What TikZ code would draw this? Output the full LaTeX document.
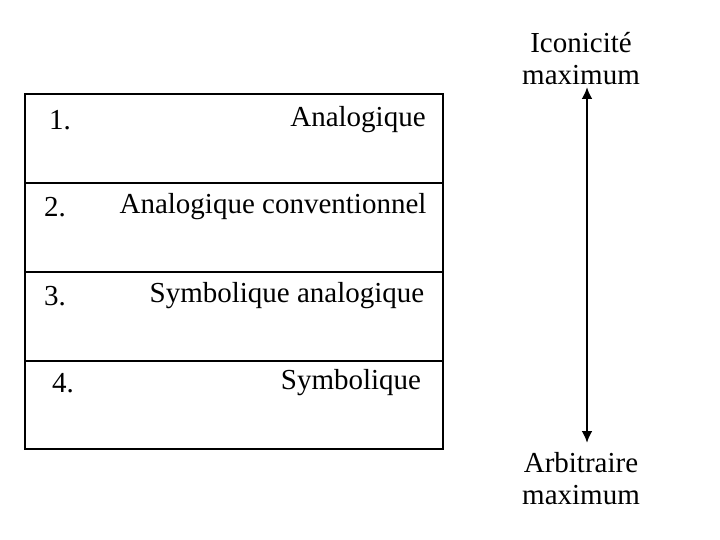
\documentclass[tikz,border=0pt]{standalone}
\usepackage{fontspec}
\usetikzlibrary{arrows.meta}
\setmainfont{Liberation Serif}
\begin{document}
\begin{tikzpicture}[x=1pt,y=-1pt,
  lbl/.style={font=\fontsize{29}{32}\selectfont, inner sep=0pt},
  rule/.style={line width=1.5pt}]
\useasboundingbox (0,0) rectangle (720,540);
\draw[rule] (25,94) rectangle (443,449);
\coordinate (l1) at (25,183); \coordinate (r1) at (443,183);
\coordinate (l2) at (25,272); \coordinate (r2) at (443,272);
\coordinate (l3) at (25,361); \coordinate (r3) at (443,361);
\draw[rule] (l1) -- (r1);
\draw[rule] (l2) -- (r2);
\draw[rule] (l3) -- (r3);
\node[lbl] (n1) at (60,120) {1.};
\node[lbl] (t1) at (358,120) {Analogique};
\node[lbl] (n2) at (55,207) {2.};
\node[lbl] (t2) at (273,207) {Analogique conventionnel};
\node[lbl] (n3) at (55,296) {3.};
\node[lbl] (t3) at (287,296) {Symbolique analogique};
\node[lbl] (n4) at (63,383) {4.};
\node[lbl] (t4) at (351,383) {Symbolique};
\node[lbl, align=center] (top) at (581,59) {Iconicité\\maximum};
\node[lbl, align=center] (bot) at (581,479) {Arbitraire\\maximum};
\coordinate (a) at (587,87);
\coordinate (b) at (587,443);
\draw[line width=2.5pt, {Latex[length=12pt,width=11pt]}-{Latex[length=12pt,width=11pt]}] (a) -- (b);
\end{tikzpicture}
\end{document}
